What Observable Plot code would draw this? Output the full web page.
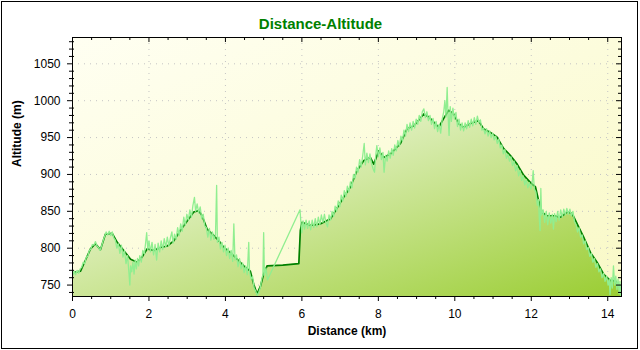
<!DOCTYPE html>
<html><head><meta charset="utf-8">
<script src="https://cdn.jsdelivr.net/npm/d3@7"></script>
<script src="https://cdn.jsdelivr.net/npm/@observablehq/plot@0.6"></script>
<style>
body{margin:0;background:#fff;}
#wrap{position:relative;width:640px;height:350px;}
#border{position:absolute;left:1px;top:1px;width:637px;height:348px;border:1px solid #000;box-sizing:border-box;pointer-events:none;}
</style></head><body><div id="wrap"><div id="border"></div></div>
<script>
// ---- data ----
const title = "Distance-Altitude";
const xLabel = "Distance (km)";
const yLabel = "Altitude (m)";
const xDomain = [0, 14.36];
const yDomain = [734.5, 1085.7];
const xMajorTicks = [0, 2, 4, 6, 8, 10, 12, 14];
const yMajorTicks = [750, 800, 850, 900, 950, 1000, 1050];
const xMinorTicks = [0.5, 1, 1.5, 2.5, 3, 3.5, 4.5, 5, 5.5, 6.5, 7, 7.5, 8.5, 9, 9.5, 10.5, 11, 11.5, 12.5, 13, 13.5];
const yMinorTicks = [740, 760, 770, 780, 790, 810, 820, 830, 840, 860, 870, 880, 890, 910, 920, 930, 940, 960, 970, 980, 990, 1010, 1020, 1030, 1040, 1060, 1070, 1080];

// smoothed profile (dark line + area)
const smoothKm = [0.00,0.03,0.21,0.35,0.47,0.60,0.73,0.86,1.04,1.17,1.34,1.52,1.69,1.82,1.95,2.13,2.30,2.48,2.65,2.82,3.00,3.17,3.30,3.39,3.52,3.70,3.83,3.96,4.13,4.31,4.48,4.65,4.74,4.83,4.92,5.00,5.09,5.50,5.92,5.96,6.00,6.22,6.49,6.75,6.88,7.09,7.27,7.44,7.62,7.79,7.88,8.01,8.14,8.32,8.58,8.75,8.93,9.19,9.32,9.45,9.58,9.71,9.84,9.97,10.10,10.23,10.41,10.62,10.75,10.93,11.10,11.28,11.45,11.63,11.80,11.98,12.11,12.19,12.28,12.41,12.59,12.76,12.94,13.07,13.20,13.37,13.55,13.72,13.89,14.07,14.20,14.33,14.36];
const smoothAlt = [765,767,769,785,799,806,798,819,820,808,797,785,781,788,799,797,801,803,810,824,837,849,851,844,826,817,810,801,794,785,776,769,751,738,749,765,776,777,779,824,835,831,833,840,851,869,883,905,919,923,914,932,923,928,942,962,966,982,978,971,964,976,987,982,969,964,969,973,962,957,951,935,926,914,899,889,883,865,849,844,844,842,849,847,833,815,794,781,765,756,756,745,744];

// raw GPS profile (light line), [km, altitude]
const rawProfile = [
[0.00,762],[0.04,769],[0.08,764],[0.12,770],[0.16,766],[0.20,772],[0.24,774],[0.28,781],[0.32,779],[0.36,788],[0.40,789],[0.44,797],[0.48,799],[0.52,805],[0.56,804],[0.60,809],[0.64,803],[0.68,801],[0.72,797],[0.76,803],[0.80,810],[0.84,816],[0.88,822],[0.92,818],[0.96,823],[1.00,817],[1.04,822],[1.08,814],
[1.12,811],[1.16,800],[1.20,806],[1.24,793],[1.28,804],[1.32,788],[1.36,797],[1.40,779],[1.44,790],[1.47,771],[1.50,750],[1.52,776],[1.55,768],[1.58,781],[1.61,765],[1.64,784],[1.67,772],[1.70,786],[1.73,776],[1.76,790],[1.80,781],[1.84,797],[1.88,792],[1.91,806],
[1.94,821],[1.97,798],[2.00,810],[2.04,795],[2.08,808],[2.12,791],[2.16,805],[2.20,784],[2.24,807],[2.28,795],[2.32,810],[2.36,798],[2.40,813],[2.44,801],[2.48,815],[2.52,803],[2.56,814],[2.60,822],[2.63,807],[2.67,819],[2.71,812],[2.75,828],[2.79,817],[2.83,833],[2.87,823],[2.91,842],[2.95,831],[2.99,846],[3.03,838],[3.07,852],[3.11,842],[3.15,858],[3.19,869],[3.22,850],[3.26,860],[3.30,848],[3.34,856],[3.38,840],[3.42,846],[3.46,830],
[3.50,828],[3.54,815],[3.58,827],[3.62,811],[3.66,822],[3.70,812],[3.74,818],[3.77,885],[3.79,808],[3.83,815],[3.87,799],[3.91,808],[3.95,795],[3.99,804],[4.03,790],[4.07,800],[4.11,786],[4.15,797],[4.19,782],[4.22,833],[4.25,784],[4.29,791],[4.33,775],[4.37,786],[4.41,772],[4.45,780],[4.49,767],[4.53,776],[4.57,764],[4.61,808],[4.63,768],[4.67,758],[4.71,762],[4.75,746],[4.79,742],[4.83,736],[4.87,740],[4.91,746],[4.95,758],[4.98,764],[5.00,821],[5.02,763],[5.06,773],[5.10,757],
[5.95,852],
[5.97,838],[6.00,821],[6.03,837],[6.07,826],[6.11,838],[6.15,827],[6.19,837],[6.23,825],[6.27,838],[6.31,828],[6.35,840],[6.39,829],[6.43,842],[6.47,832],[6.51,845],[6.55,835],[6.59,846],[6.63,834],[6.67,829],[6.71,845],[6.75,838],[6.79,850],[6.83,843],[6.87,857],[6.91,850],[6.95,864],[6.99,856],[7.03,872],[7.07,864],[7.11,878],[7.15,870],[7.19,884],[7.23,876],[7.27,890],[7.31,882],[7.35,900],[7.39,895],[7.43,910],[7.47,903],[7.51,920],[7.55,910],[7.59,925],[7.63,942],[7.66,913],[7.70,929],[7.74,916],[7.78,928],[7.82,915],[7.86,908],[7.90,903],[7.93,925],[7.96,939],[8.00,924],[8.04,936],[8.08,920],[8.12,930],[8.15,903],[8.19,926],[8.23,918],[8.27,932],[8.31,922],[8.35,935],[8.39,926],[8.43,940],[8.47,932],[8.51,946],[8.55,938],
[8.59,952],[8.63,945],[8.67,960],[8.71,952],[8.75,968],[8.79,958],[8.83,970],[8.87,960],[8.91,972],[8.95,963],[8.99,975],[9.03,968],[9.07,980],[9.11,972],[9.15,985],[9.19,989],[9.23,977],[9.27,985],[9.31,973],[9.35,980],[9.39,968],[9.43,976],[9.47,962],[9.51,972],[9.55,958],[9.59,968],[9.63,956],[9.67,975],[9.71,985],[9.74,1000],[9.77,978],[9.80,1018],[9.82,984],[9.85,953],[9.88,992],[9.91,972],[9.95,990],[9.99,975],[10.03,984],[10.07,965],[10.11,975],[10.15,960],[10.19,970],[10.23,959],[10.27,970],[10.31,962],[10.35,973],[10.39,964],[10.43,975],[10.47,966],[10.51,977],[10.55,968],[10.59,979],[10.63,970],[10.67,974],[10.71,960],
[10.75,963],[10.79,955],[10.83,962],[10.87,952],[10.91,959],[10.95,950],[10.99,956],[11.03,947],[11.07,952],[11.11,942],[11.15,948],[11.19,936],[11.23,940],[11.27,928],[11.31,934],[11.35,922],[11.39,927],[11.43,918],[11.47,924],[11.51,912],[11.55,918],[11.59,905],[11.63,912],[11.67,898],[11.71,905],[11.75,892],[11.79,898],[11.83,886],[11.87,893],[11.91,882],[11.95,889],[11.99,880],[12.02,887],[12.05,905],[12.08,880],
[12.12,876],[12.16,858],[12.19,866],[12.21,840],[12.23,824],[12.25,881],[12.27,845],[12.31,852],[12.35,835],[12.39,850],[12.43,832],[12.47,848],[12.51,834],[12.55,846],[12.58,826],[12.61,847],[12.65,836],[12.69,850],[12.73,838],[12.77,852],[12.81,842],[12.85,853],[12.89,845],[12.93,854],[12.97,846],[13.01,853],[13.05,844],[13.09,850],[13.13,836],
[13.17,832],[13.21,822],[13.25,828],[13.29,815],[13.33,818],[13.37,806],[13.41,810],[13.45,798],[13.49,801],[13.53,789],[13.57,793],[13.61,781],[13.65,786],[13.69,774],[13.73,779],[13.77,768],[13.81,772],[13.85,760],[13.89,766],[13.93,755],[13.97,762],[14.01,750],[14.04,758],[14.06,737],[14.09,760],[14.12,746],[14.15,776],[14.18,750],[14.21,762],[14.24,744],[14.27,758],[14.30,738],[14.32,755],[14.34,736],[14.36,748]
];

const smooth = smoothKm.map((km, i) => ({km, alt: smoothAlt[i]}));
const raw = rawProfile.map(([km, alt]) => ({km, alt}));

// ---- layout ----
const W = 640, H = 350, mL = 72, mR = 19, mT = 37, mB = 54;
const pw = W - mL - mR, ph = H - mT - mB;
const font = "'Liberation Sans', Arial, sans-serif";

const svg = Plot.plot({
  width: W, height: H,
  marginLeft: mL, marginRight: mR, marginTop: mT, marginBottom: mB,
  style: {fontFamily: font, fontSize: "12px", color: "#000", background: "transparent", overflow: "visible"},
  x: {domain: xDomain, ticks: xMajorTicks, tickSize: 5, tickPadding: 8, label: null, tickFormat: d => String(d)},
  y: {domain: yDomain, ticks: yMajorTicks, tickSize: 5, tickPadding: 7, label: null, tickFormat: d => String(d)},
  marks: [
    Plot.frame({fill: "url(#bgGrad)", stroke: "none"}),
    Plot.ruleX(xMajorTicks.filter(d => d > 0), {x: d => d, stroke: "#c4c4c4", strokeDasharray: "1,5"}),
    Plot.ruleY(yMajorTicks, {y: d => d, stroke: "#c4c4c4", strokeDasharray: "1,5"}),
    Plot.areaY(smooth, {x: "km", y1: yDomain[0], y2: "alt", fill: "url(#areaGrad)", clip: true}),
    Plot.line(smooth, {x: "km", y: "alt", stroke: "#008000", strokeWidth: 1.7, clip: true}),
    Plot.line(raw, {x: "km", y: "alt", stroke: "#90ee90", strokeWidth: 1.3, clip: true}),
    Plot.frame({stroke: "#000"}),
    // minor / mirrored ticks
    Plot.tickY(yMinorTicks, {y: d => d, insetRight: pw - 5, dx: -3, stroke: "#000"}),
    Plot.tickY(yMajorTicks, {y: d => d, insetLeft: pw - 5, stroke: "#000"}),
    Plot.tickY(yMinorTicks, {y: d => d, insetLeft: pw - 3, stroke: "#000"}),
    Plot.tickX(xMinorTicks, {x: d => d, insetTop: ph - 3, dy: 3, stroke: "#000"}),
    Plot.tickX(xMajorTicks, {x: d => d, insetBottom: ph - 5, stroke: "#000"}),
    Plot.tickX(xMinorTicks, {x: d => d, insetBottom: ph - 3, stroke: "#000"}),
    // texts
    Plot.text([title], {text: d => d, frameAnchor: "top", dx: -26.5, dy: -19, fill: "#008000", fontWeight: "bold", fontSize: 15}),
    Plot.text([yLabel], {text: d => d, frameAnchor: "left", rotate: -90, dx: -55, fontWeight: "bold", fontSize: 12, fill: "#000"}),
    Plot.text([xLabel], {text: d => d, frameAnchor: "bottom", dy: 38, fontWeight: "bold", fontSize: 12, fill: "#000"})
  ]
});

const defs = d3.select(svg).insert("defs", ":first-child");
const bg = defs.append("linearGradient").attr("id", "bgGrad").attr("x1", 0).attr("y1", 0).attr("x2", 1).attr("y2", 1);
bg.append("stop").attr("offset", 0).attr("stop-color", "#fffff2");
bg.append("stop").attr("offset", 1).attr("stop-color", "#f9f9c6");
const ag = defs.append("linearGradient").attr("id", "areaGrad").attr("x1", 0).attr("y1", 0).attr("x2", 1).attr("y2", 1);
ag.append("stop").attr("offset", 0).attr("stop-color", "#ffffff");
ag.append("stop").attr("offset", 1).attr("stop-color", "#9acd32");

document.getElementById("wrap").prepend(svg);
</script></body></html>
